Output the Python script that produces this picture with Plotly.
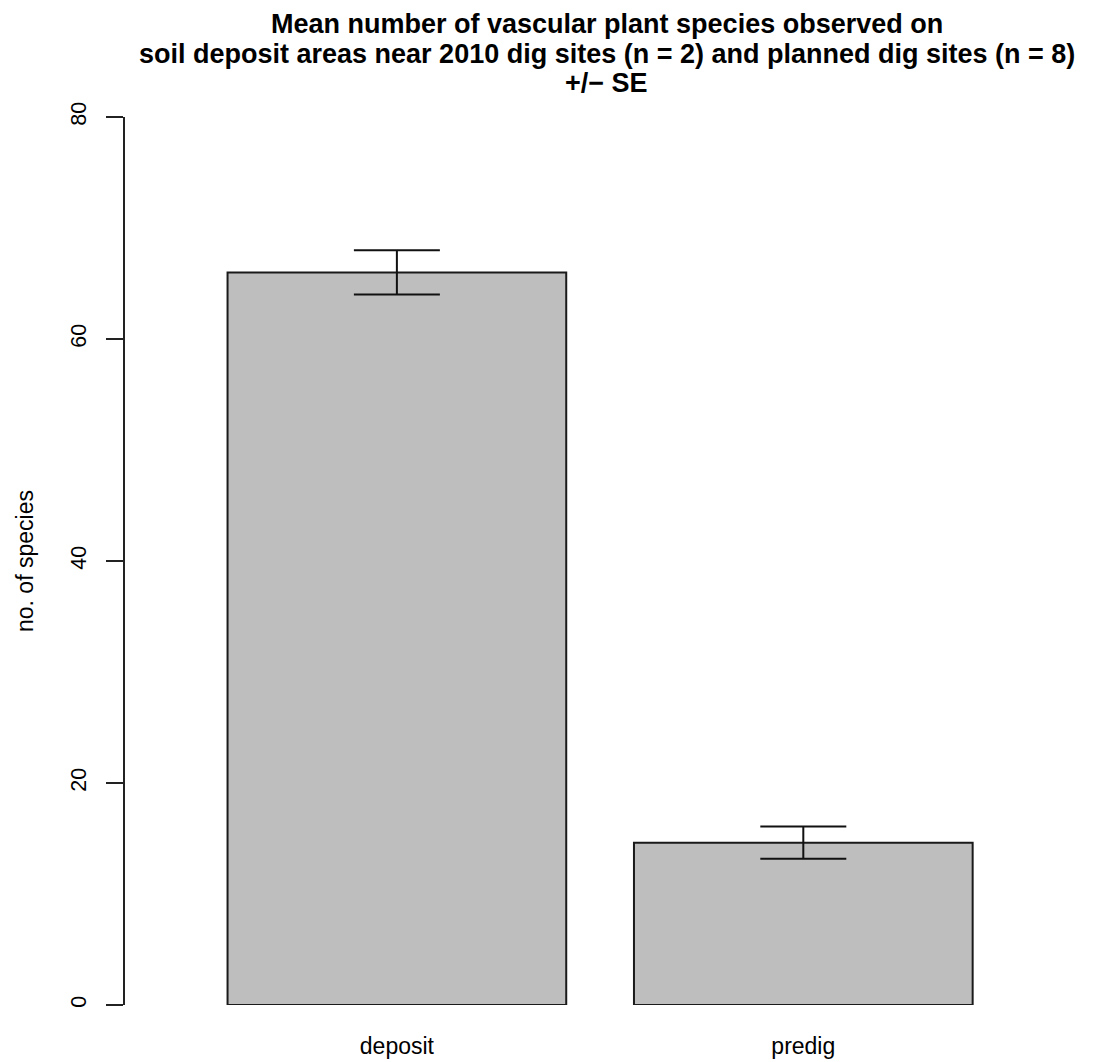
import plotly.graph_objects as go

# Mean species counts per site type, with standard errors
categories = ["deposit", "predig"]
mean_species = [66.0, 14.625]
se_species = [2.0, 1.46]
y_ticks = [0, 20, 40, 60, 80]

title_lines = [
    "Mean number of vascular plant species observed on",
    "soil deposit areas near 2010 dig sites (n = 2) and planned dig sites (n = 8)",
    "+/\u2212 SE",
]

W, H = 1103, 1062
L, R, T, B = 125, 15, 117, 57
plot_h = H - T - B
plot_w = W - L - R

FONT = "Liberation Sans, Arial, sans-serif"

fig = go.Figure()
fig.add_trace(go.Bar(
    x=categories,
    y=mean_species,
    marker=dict(color="#bebebe", line=dict(color="#1a1a1a", width=2)),
    error_y=dict(type="data", array=se_species, visible=True,
                 color="#111111", thickness=2, width=43),
    showlegend=False,
))

# Three-line bold title, centred over the plotting region
for i, line in enumerate(title_lines):
    y_px = 24 + 29.5 * i
    fig.add_annotation(
        text=f"<b>{line}</b>", xref="paper", yref="paper",
        x=0.5, y=1 + (T - y_px) / plot_h,
        xanchor="center", yanchor="middle", showarrow=False,
        font=dict(family=FONT, size=27, color="black"),
    )

# Y axis title
fig.add_annotation(
    text="no. of species", xref="paper", yref="paper",
    x=(25 - L) / plot_w, y=0.5, textangle=-90,
    xanchor="center", yanchor="middle", showarrow=False,
    font=dict(family=FONT, size=23, color="black"),
)

fig.update_layout(
    width=W, height=H,
    margin=dict(l=L, r=R, t=T, b=B, autoexpand=False),
    paper_bgcolor="white", plot_bgcolor="white",
    bargap=1 - 1 / 1.2,
    font=dict(family=FONT, size=22, color="black"),
)
fig.update_xaxes(
    type="category", range=[-0.669, 1.7005],
    showline=False, showgrid=False, zeroline=False, ticks="",
    ticklabelstandoff=25,
    tickfont=dict(family=FONT, size=23, color="black"),
)
fig.update_yaxes(
    range=[0, 80], tickvals=y_ticks, ticktext=[str(v) for v in y_ticks],
    showline=True, linecolor="#222222", linewidth=2,
    ticks="outside", ticklen=17, tickwidth=2, tickcolor="#222222",
    tickangle=-90, ticklabelstandoff=11,
    showgrid=False, zeroline=False,
    tickfont=dict(family=FONT, size=21.5, color="black"),
)

fig.write_html("out.html")
